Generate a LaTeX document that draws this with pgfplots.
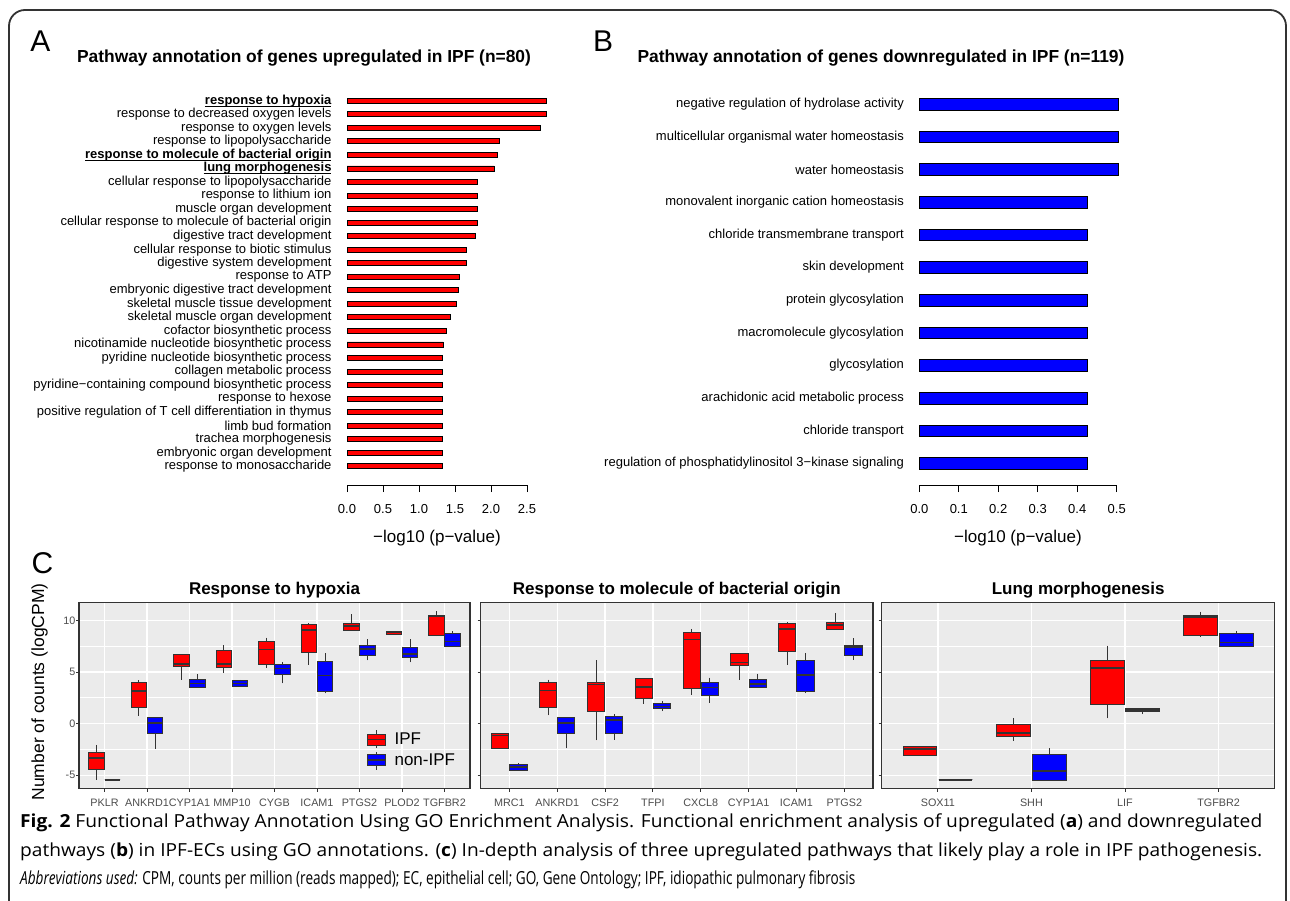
\documentclass[border=0pt]{standalone}
\usepackage{fontspec}
\setmainfont{Liberation Sans}
\newfontfamily\capfont{Open Sans}
\usepackage{graphicx}
\usepackage{pgfplots}
\pgfplotsset{compat=1.18}
\usepgfplotslibrary{statistics}
\definecolor{gtwenty}{HTML}{333333}
\definecolor{gthirty}{HTML}{4D4D4D}
\definecolor{gbg}{HTML}{EBEBEB}
\definecolor{ipf}{HTML}{FF0000}
\definecolor{nipf}{HTML}{0000FF}
\newcommand{\fs}[1]{\fontsize{#1}{#1}\selectfont}
\newcommand{\ul}[1]{\setbox0\hbox{\textbf{#1}}\rlap{\rule[-2.6pt]{\wd0}{1.1pt}}\box0}
% boxplot helpers: position, lower whisker, lower quartile, median, upper quartile, upper whisker
\newcommand{\bxr}[6]{\addplot[fill=ipf, draw=gtwenty, line width=1pt, boxplot prepared={draw position=#1, lower whisker=#2, lower quartile=#3, median=#4, upper quartile=#5, upper whisker=#6}] coordinates {};}
\newcommand{\bxb}[6]{\addplot[fill=nipf, draw=gtwenty, line width=1pt, boxplot prepared={draw position=#1, lower whisker=#2, lower quartile=#3, median=#4, upper quartile=#5, upper whisker=#6}] coordinates {};}
\pgfplotsset{
  barpanel/.style={scale only axis, clip=false,
    axis x line*=bottom, axis y line*=left,
    y axis line style={draw=none}, x axis line style={-, line width=0.8pt, black},
    ytick style={draw=none}, xtick style={line width=0.8pt, black},
    tick align=outside, major tick length=6.7pt,
    tick label style={font=\fs{13}, text=black},
    yticklabel style={inner sep=0pt, xshift=-8.6pt},
    xticklabel style={inner sep=0pt, yshift=-12.4pt},
    xlabel={−log10 (p−value)},
    xlabel style={at={(axis description cs:0.5,0)}, anchor=center, yshift=-52.5pt, font=\fs{17}},
  },
  facet/.style={scale only axis, height=186.4pt, ymin=-6.3, ymax=11.75,
    ytick={-5,0,5,10}, minor ytick={-2.5,2.5,7.5},
    grid=both, major grid style={white, line width=1.4pt}, minor grid style={white, line width=0.75pt},
    axis background/.style={fill=gbg},
    axis line style={gtwenty, line width=1.3pt},
    tick pos=left, tick align=outside, major tick length=3pt, minor tick length=0pt,
    tick style={gtwenty, line width=0.9pt},
    tick label style={font=\fs{10.8}, text=gthirty},
    xticklabel style={inner sep=0pt, yshift=-7pt},
    yticklabel style={inner sep=0pt, xshift=-0.5pt},
    title style={font=\bfseries\fs{17}, at={(0.5,1)}, anchor=center, yshift=6pt},
    boxplot/draw direction=y, boxplot/box extend=0.36, boxplot/whisker extend=0,
    boxplot/every median/.style={line width=1.7pt},
  },
}
\begin{document}
\begin{tikzpicture}[x=1pt,y=1pt]
\useasboundingbox (0,0) rectangle (1290,900);
\fill[white] (0,0) rectangle (1290,900);
\begin{scope}
\clip (0,0) rectangle (1290,900);
\draw[gtwenty, line width=1.8pt, rounded corners=16pt] (9,-40) rectangle (1286,890);
\end{scope}

% panel letters and titles
\node[font=\fs{30}] at (40.5,859) {A};
\node[font=\fs{30}] at (603,859) {B};
\node[font=\fs{30}] at (42.5,337) {C};
\node[font=\bfseries\fs{17.4}] at (304,842) {Pathway annotation of genes upregulated in IPF (n=80)};
\node[font=\bfseries\fs{17.4}] at (881,842) {Pathway annotation of genes downregulated in IPF (n=119)};

% ---------------- Panel A ----------------
\begin{axis}[barpanel, at={(347pt,414.5pt)}, anchor=south west,
  width=180pt, height=398.3pt, xmin=0, xmax=2.5, ymin=-0.42, ymax=29,
  xtick={0,0.5,1,1.5,2,2.5}, xticklabels={0.0,0.5,1.0,1.5,2.0,2.5},
  ytick={1,...,28},
  yticklabels={response to monosaccharide, embryonic organ development, trachea morphogenesis, limb bud formation, positive regulation of T cell differentiation in thymus, response to hexose, pyridine−containing compound biosynthetic process, collagen metabolic process, pyridine nucleotide biosynthetic process, nicotinamide nucleotide biosynthetic process, cofactor biosynthetic process, skeletal muscle organ development, skeletal muscle tissue development, embryonic digestive tract development, response to ATP, digestive system development, cellular response to biotic stimulus, digestive tract development, cellular response to molecule of bacterial origin, muscle organ development, response to lithium ion, cellular response to lipopolysaccharide, \ul{lung morphogenesis}, \ul{response to molecule of bacterial origin}, response to lipopolysaccharide, response to oxygen levels, response to decreased oxygen levels, \ul{response to hypoxia}},
]
\addplot[xbar, bar width=5pt, fill=ipf, draw=black, line width=0.8pt] coordinates {
(1.32,1) (1.32,2) (1.33,3) (1.33,4) (1.33,5) (1.33,6) (1.33,7) (1.33,8) (1.33,9) (1.335,10)
(1.38,11) (1.44,12) (1.52,13) (1.545,14) (1.555,15) (1.665,16) (1.665,17) (1.78,18) (1.81,19) (1.81,20)
(1.81,21) (1.81,22) (2.045,23) (2.085,24) (2.11,25) (2.69,26) (2.77,27) (2.77,28)};
\end{axis}

% ---------------- Panel B ----------------
\begin{axis}[barpanel, at={(919.3pt,414.5pt)}, anchor=south west,
  width=197.4pt, height=413.9pt, xmin=0, xmax=0.5, ymin=0.33, ymax=13,
  xtick={0,0.1,0.2,0.3,0.4,0.5}, xticklabels={0.0,0.1,0.2,0.3,0.4,0.5},
  ytick={1,...,12},
  yticklabels={regulation of phosphatidylinositol 3−kinase signaling, chloride transport, arachidonic acid metabolic process, glycosylation, macromolecule glycosylation, protein glycosylation, skin development, chloride transmembrane transport, monovalent inorganic cation homeostasis, water homeostasis, multicellular organismal water homeostasis, negative regulation of hydrolase activity},
]
\addplot[xbar, bar width=11.8pt, fill=nipf, draw=black, line width=0.8pt] coordinates {
(0.427,1) (0.427,2) (0.427,3) (0.427,4) (0.427,5) (0.427,6) (0.427,7) (0.427,8) (0.427,9)
(0.504,10) (0.504,11) (0.504,12)};
\end{axis}

% ---------------- Panel C, facet 1 ----------------
\begin{axis}[facet, at={(79pt,111.3pt)}, anchor=south west, width=391pt,
  xmin=0.4, xmax=9.6, xtick={1,...,9},
  xticklabels={PKLR,ANKRD1,CYP1A1,MMP10,CYGB,ICAM1,PTGS2,PLOD2,TGFBR2},
  yticklabels={-5,0,5,10},
  title={Response to hypoxia},
  ylabel={Number of counts (logCPM)},
  ylabel style={at={(axis description cs:-0.101,0.519)}, anchor=center, font=\fs{17.5}, text=black},
  legend style={draw=none, fill=none, at={(0.736,0.318)}, anchor=north west, font=\fs{17}, row sep=2.5pt, inner sep=0pt, nodes={inner sep=2pt}},
  legend cell align=left,
]
\addlegendimage{legend image code/.code={
  \draw[gtwenty, line width=1pt] (9pt,-8.5pt) -- (9pt,9.5pt);
  \draw[fill=ipf, draw=gtwenty, line width=1pt] (0pt,-5.6pt) rectangle (18pt,5.6pt);
  \draw[gtwenty, line width=1.6pt] (0pt,0pt) -- (18pt,0pt);}}
\addlegendimage{legend image code/.code={
  \draw[gtwenty, line width=1pt] (9pt,-9.5pt) -- (9pt,8.5pt);
  \draw[fill=nipf, draw=gtwenty, line width=1pt] (0pt,-5.6pt) rectangle (18pt,5.6pt);
  \draw[gtwenty, line width=1.6pt] (0pt,0pt) -- (18pt,0pt);}}
\legend{\hspace{6pt}IPF,\hspace{6pt}non-IPF}
\bxr{0.81}{-5.45}{-4.42}{-3.32}{-2.77}{-2.06}
\bxb{1.19}{-5.45}{-5.45}{-5.45}{-5.45}{-5.45}
\bxr{1.81}{0.77}{1.52}{3.19}{3.97}{4.19}
\bxb{2.19}{-2.42}{-0.94}{0.03}{0.58}{0.58}
\bxr{2.81}{4.23}{5.52}{5.77}{6.74}{6.74}
\bxb{3.19}{3.48}{3.48}{3.9}{4.26}{4.8}
\bxr{3.81}{4.94}{5.45}{5.77}{7.13}{7.61}
\bxb{4.19}{3.58}{3.58}{3.9}{4.13}{4.23}
\bxr{4.81}{5.42}{5.68}{7.19}{7.94}{8.32}
\bxb{5.19}{3.9}{4.74}{5.35}{5.74}{5.97}
\bxr{5.81}{5.68}{6.9}{9.06}{9.58}{9.74}
\bxb{6.19}{2.94}{3.13}{4.65}{6.0}{6.8}
\bxr{6.81}{9.03}{9.03}{9.45}{9.74}{10.6}
\bxb{7.19}{6.13}{6.55}{7.23}{7.55}{8.19}
\bxr{7.81}{8.61}{8.61}{8.87}{8.97}{8.97}
\bxb{8.19}{5.94}{6.42}{6.74}{7.35}{8.16}
\bxr{8.81}{8.48}{8.58}{10.42}{10.48}{10.9}
\bxb{9.19}{7.45}{7.45}{7.94}{8.74}{8.97}
\end{axis}

% ---------------- facet 2 ----------------
\begin{axis}[facet, at={(480.7pt,111.3pt)}, anchor=south west, width=392.3pt,
  xmin=0.4, xmax=8.6, xtick={1,...,8},
  xticklabels={MRC1,ANKRD1,CSF2,TFPI,CXCL8,CYP1A1,ICAM1,PTGS2},
  yticklabels={},
  title={Response to molecule of bacterial origin},
]
\bxr{0.81}{-2.39}{-2.39}{-1.15}{-0.99}{-0.99}
\bxb{1.19}{-4.55}{-4.55}{-4.2}{-3.92}{-3.79}
\bxr{1.81}{0.8}{1.56}{3.22}{4.01}{4.27}
\bxb{2.19}{-2.39}{-0.92}{0.03}{0.57}{0.57}
\bxr{2.81}{-1.62}{1.18}{3.79}{4.01}{6.15}
\bxb{3.19}{-1.56}{-0.92}{0.38}{0.7}{0.89}
\bxr{3.81}{1.91}{2.39}{3.54}{4.36}{4.36}
\bxb{4.19}{1.21}{1.46}{1.66}{1.91}{2.2}
\bxr{4.81}{2.8}{3.44}{8.15}{8.79}{9.17}
\bxb{5.19}{2.0}{2.68}{3.5}{4.01}{4.46}
\bxr{5.81}{4.27}{5.61}{5.92}{6.82}{6.82}
\bxb{6.19}{3.5}{3.5}{3.85}{4.3}{4.84}
\bxr{6.81}{5.7}{6.97}{9.14}{9.65}{9.81}
\bxb{7.19}{2.96}{3.15}{4.68}{6.08}{6.85}
\bxr{7.81}{9.08}{9.08}{9.55}{9.81}{10.73}
\bxb{8.19}{6.18}{6.59}{7.39}{7.58}{8.28}
\end{axis}

% ---------------- facet 3 ----------------
\begin{axis}[facet, at={(881.7pt,111.3pt)}, anchor=south west, width=393pt,
  xmin=0.4, xmax=4.6, xtick={1,...,4},
  xticklabels={SOX11,SHH,LIF,TGFBR2},
  yticklabels={},
  title={Lung morphogenesis},
]
\bxr{0.81}{-3.09}{-3.09}{-2.48}{-2.25}{-2.25}
\bxb{1.19}{-5.44}{-5.44}{-5.44}{-5.44}{-5.44}
\bxr{1.81}{-1.67}{-1.26}{-0.9}{-0.13}{0.55}
\bxb{2.19}{-5.47}{-5.47}{-4.57}{-2.99}{-2.38}
\bxr{2.81}{0.51}{1.83}{5.41}{6.12}{7.56}
\bxb{3.19}{0.93}{1.16}{1.29}{1.42}{1.42}
\bxr{3.81}{8.43}{8.53}{10.33}{10.46}{10.85}
\bxb{4.19}{7.43}{7.43}{7.85}{8.69}{8.98}
\end{axis}

% ---------------- caption ----------------
\node[anchor=west, inner sep=0pt] at (20,77) {\capfont\fs{18}\resizebox{1242pt}{\height}{\textbf{Fig. 2} Functional Pathway Annotation Using GO Enrichment Analysis. Functional enrichment analysis of upregulated (\textbf{a}) and downregulated}};
\node[anchor=west, inner sep=0pt] at (20,48) {\capfont\fs{18}\resizebox{1242pt}{\height}{pathways (\textbf{b}) in IPF-ECs using GO annotations. (\textbf{c}) In-depth analysis of three upregulated pathways that likely play a role in IPF pathogenesis.}};
\node[anchor=west, inner sep=0pt] at (20,20) {\capfont\fs{18}\resizebox{835pt}{\height}{\textit{Abbreviations used:} CPM, counts per million (reads mapped); EC, epithelial cell; GO, Gene Ontology; IPF, idiopathic pulmonary fibrosis}};
\end{tikzpicture}
\end{document}
